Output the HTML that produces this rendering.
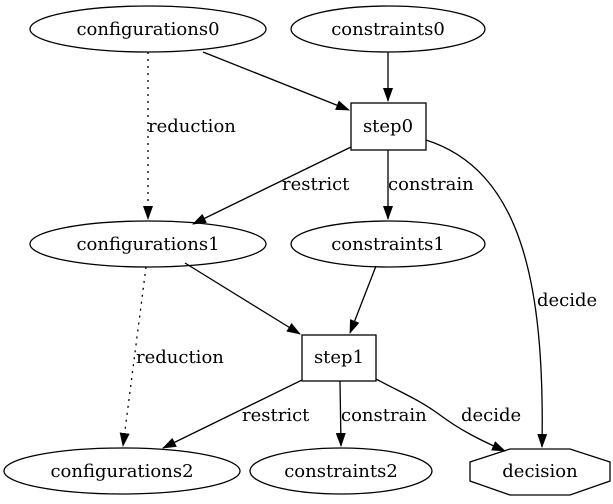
<!DOCTYPE html>
<html><head><style>
html,body{margin:0;padding:0;background:#fff;}
svg{display:block;}
text{font-family:"DejaVu Serif","Liberation Serif",serif;font-size:18px;fill:#000;}
</style></head><body>
<svg width="613" height="504" viewBox="0 0 613 504" xmlns="http://www.w3.org/2000/svg">
<defs>
<marker id="a" markerWidth="14" markerHeight="10" refX="13" refY="5" orient="auto" markerUnits="userSpaceOnUse">
<path d="M0,0 L14,5 L0,10 z" fill="#000"/>
</marker>
</defs>
<g fill="none" stroke="#000" stroke-width="1.3">
<ellipse cx="148" cy="29" rx="118" ry="23"/>
<ellipse cx="388" cy="29" rx="97" ry="23"/>
<rect x="351" y="103" width="75" height="47"/>
<ellipse cx="148" cy="244" rx="118" ry="23"/>
<ellipse cx="388" cy="244" rx="97" ry="23"/>
<rect x="302" y="335" width="74" height="46"/>
<ellipse cx="122" cy="471" rx="118" ry="23"/>
<ellipse cx="341" cy="471" rx="91" ry="23"/>
<polygon points="510,449 570,449 610,462 610,481 570,495 510,495 470,481 470,462"/>
</g>
<g fill="none" stroke="#000" stroke-width="1.3" marker-end="url(#a)">
<line x1="203" y1="52" x2="349" y2="110"/>
<line x1="388" y1="52" x2="388" y2="101"/>
<line x1="148" y1="52" x2="148" y2="219" stroke-dasharray="2,5"/>
<line x1="351" y1="147" x2="193" y2="224"/>
<line x1="388" y1="150" x2="388" y2="219"/>
<path d="M426,140 C520,170 545,280 542,447"/>
<line x1="185" y1="263" x2="300" y2="334"/>
<line x1="376" y1="266" x2="350" y2="333"/>
<line x1="146" y1="267" x2="123" y2="446" stroke-dasharray="2,5"/>
<line x1="302" y1="380" x2="163" y2="448"/>
<line x1="340" y1="381" x2="341" y2="446"/>
<path d="M376,379 C400,392 420,400 440,415 C460,430 480,440 505,451"/>
</g>
<text x="148" y="35" text-anchor="middle">configurations0</text>
<text x="388" y="35" text-anchor="middle">constraints0</text>
<text x="388" y="132" text-anchor="middle">step0</text>
<text x="148" y="250" text-anchor="middle">configurations1</text>
<text x="388" y="250" text-anchor="middle">constraints1</text>
<text x="339" y="363" text-anchor="middle">step1</text>
<text x="122" y="477" text-anchor="middle">configurations2</text>
<text x="341" y="477" text-anchor="middle">constraints2</text>
<text x="540" y="477" text-anchor="middle">decision</text>
<text x="148" y="132">reduction</text>
<text x="282" y="190">restrict</text>
<text x="388" y="190">constrain</text>
<text x="537" y="306">decide</text>
<text x="136" y="363">reduction</text>
<text x="242" y="421">restrict</text>
<text x="341" y="421">constrain</text>
<text x="461" y="421">decide</text>
</svg>
</body></html>
